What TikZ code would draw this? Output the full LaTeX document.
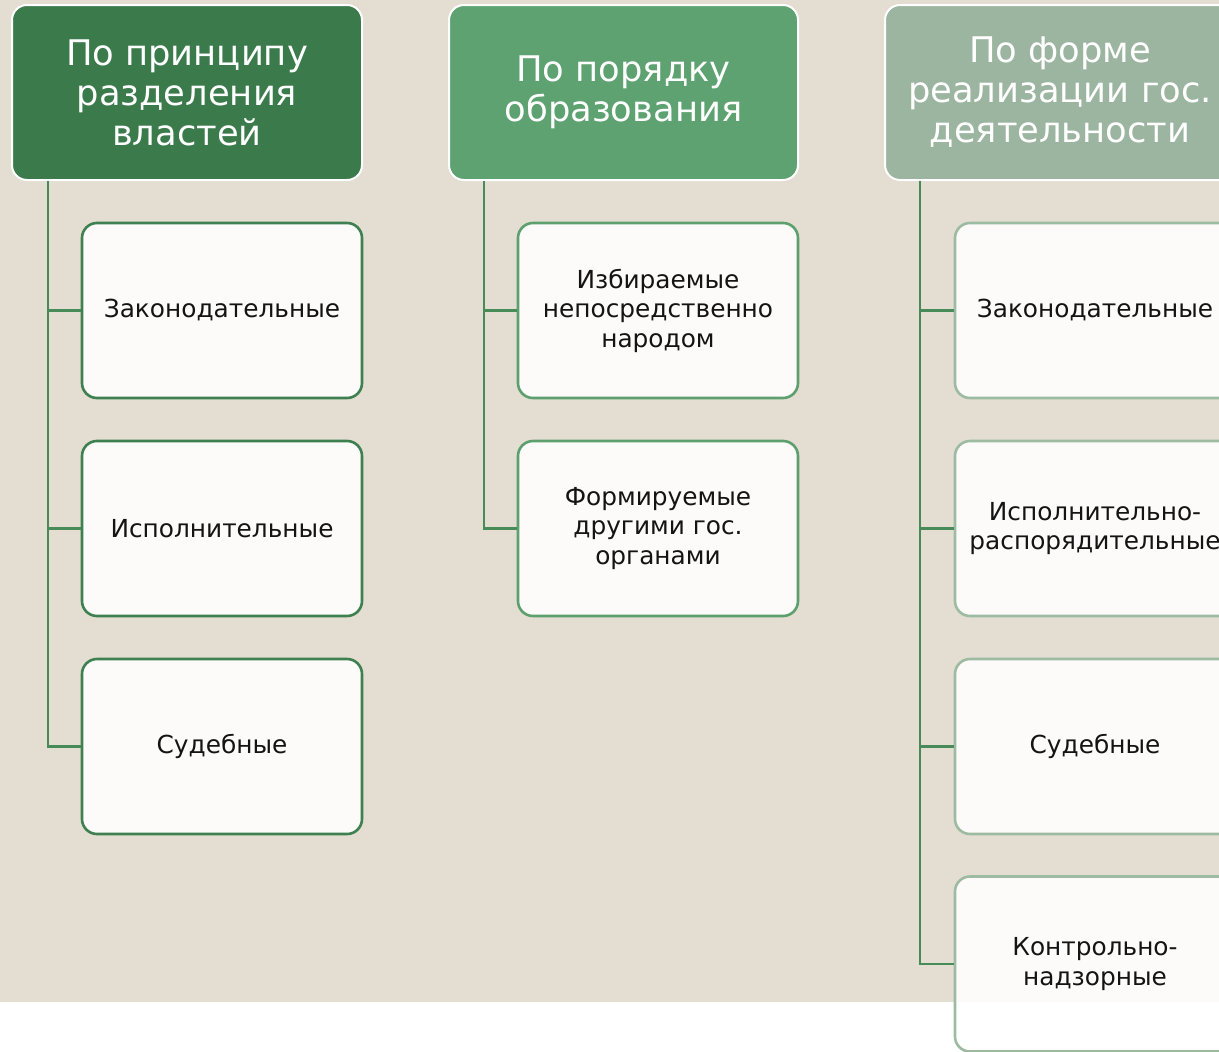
\documentclass[tikz,border=0pt]{standalone}
\usepackage{fontspec}
\setmainfont{DejaVu Sans}
\definecolor{bgc}{HTML}{E3DDD2}
\definecolor{hA}{HTML}{3A7A4B}
\definecolor{hB}{HTML}{5FA271}
\definecolor{hC}{HTML}{9CB5A0}
\definecolor{bA}{HTML}{3E8050}
\definecolor{bB}{HTML}{5DA06E}
\definecolor{bC}{HTML}{9DBBA0}
\definecolor{lnc}{HTML}{478C58}
\definecolor{txt}{HTML}{141414}
\tikzset{
  hdr/.style={rounded corners=15pt, draw=white, line width=2pt, minimum width=350pt,
    minimum height=175pt, text=white, align=center, inner sep=0pt,
    font=\fontsize{35.3}{40}\selectfont},
  cbox/.style={rounded corners=15pt, line width=2.6pt, fill=white, fill opacity=0.9,
    text opacity=1, minimum width=280pt, minimum height=175pt, text=txt, align=center,
    inner sep=0pt, font=\fontsize{24.8}{29.5}\selectfont},
  conn/.style={draw=lnc, line width=2.6pt}
}
\begin{document}
\begin{tikzpicture}[x=1pt,y=-1pt]
\useasboundingbox (0,0) rectangle (1219,1052);
\clip (0,0) rectangle (1219,1052);
\fill[white] (0,0) rectangle (1219,1052);
\fill[bgc] (0,0) rectangle (1219,1002);
% column 1
\node[hdr, fill=hA] (h1) at (187,92.5) {По принципу\\разделения\\властей};
\node[cbox, draw=bA] (b11) at (222,310.5) {Законодательные};
\node[cbox, draw=bA] (b12) at (222,528.5) {Исполнительные};
\node[cbox, draw=bA] (b13) at (222,746.5) {Судебные};
\coordinate (t1) at (48,181);
\draw[conn] (t1) |- (b13.west);
\draw[conn] (t1 |- b11.west) -- (b11.west);
\draw[conn] (t1 |- b12.west) -- (b12.west);
% column 2
\node[hdr, fill=hB, minimum width=349pt] (h2) at (623.5,92.5) {По порядку\\образования};
\node[cbox, draw=bB] (b21) at (658,310.5) {Избираемые\\непосредственно\\народом};
\node[cbox, draw=bB] (b22) at (658,528.5) {Формируемые\\другими гос.\\органами};
\coordinate (t2) at (484,181);
\draw[conn] (t2) |- (b22.west);
\draw[conn] (t2 |- b21.west) -- (b21.west);
% column 3
\node[hdr, fill=hC] (h3) at (1060,92.5) {По форме\\реализации гос.\\деятельности};
\node[cbox, draw=bC] (b31) at (1095,310.5) {Законодательные};
\node[cbox, draw=bC] (b32) at (1095,528.5) {Исполнительно-\\распорядительные};
\node[cbox, draw=bC] (b33) at (1095,746.5) {Судебные};
\node[cbox, draw=bC] (b34) at (1095,964) {Контрольно-\\надзорные};
\coordinate (t3) at (920,181);
\draw[conn] (t3) |- (b34.west);
\draw[conn] (t3 |- b31.west) -- (b31.west);
\draw[conn] (t3 |- b32.west) -- (b32.west);
\draw[conn] (t3 |- b33.west) -- (b33.west);
\end{tikzpicture}
\end{document}
